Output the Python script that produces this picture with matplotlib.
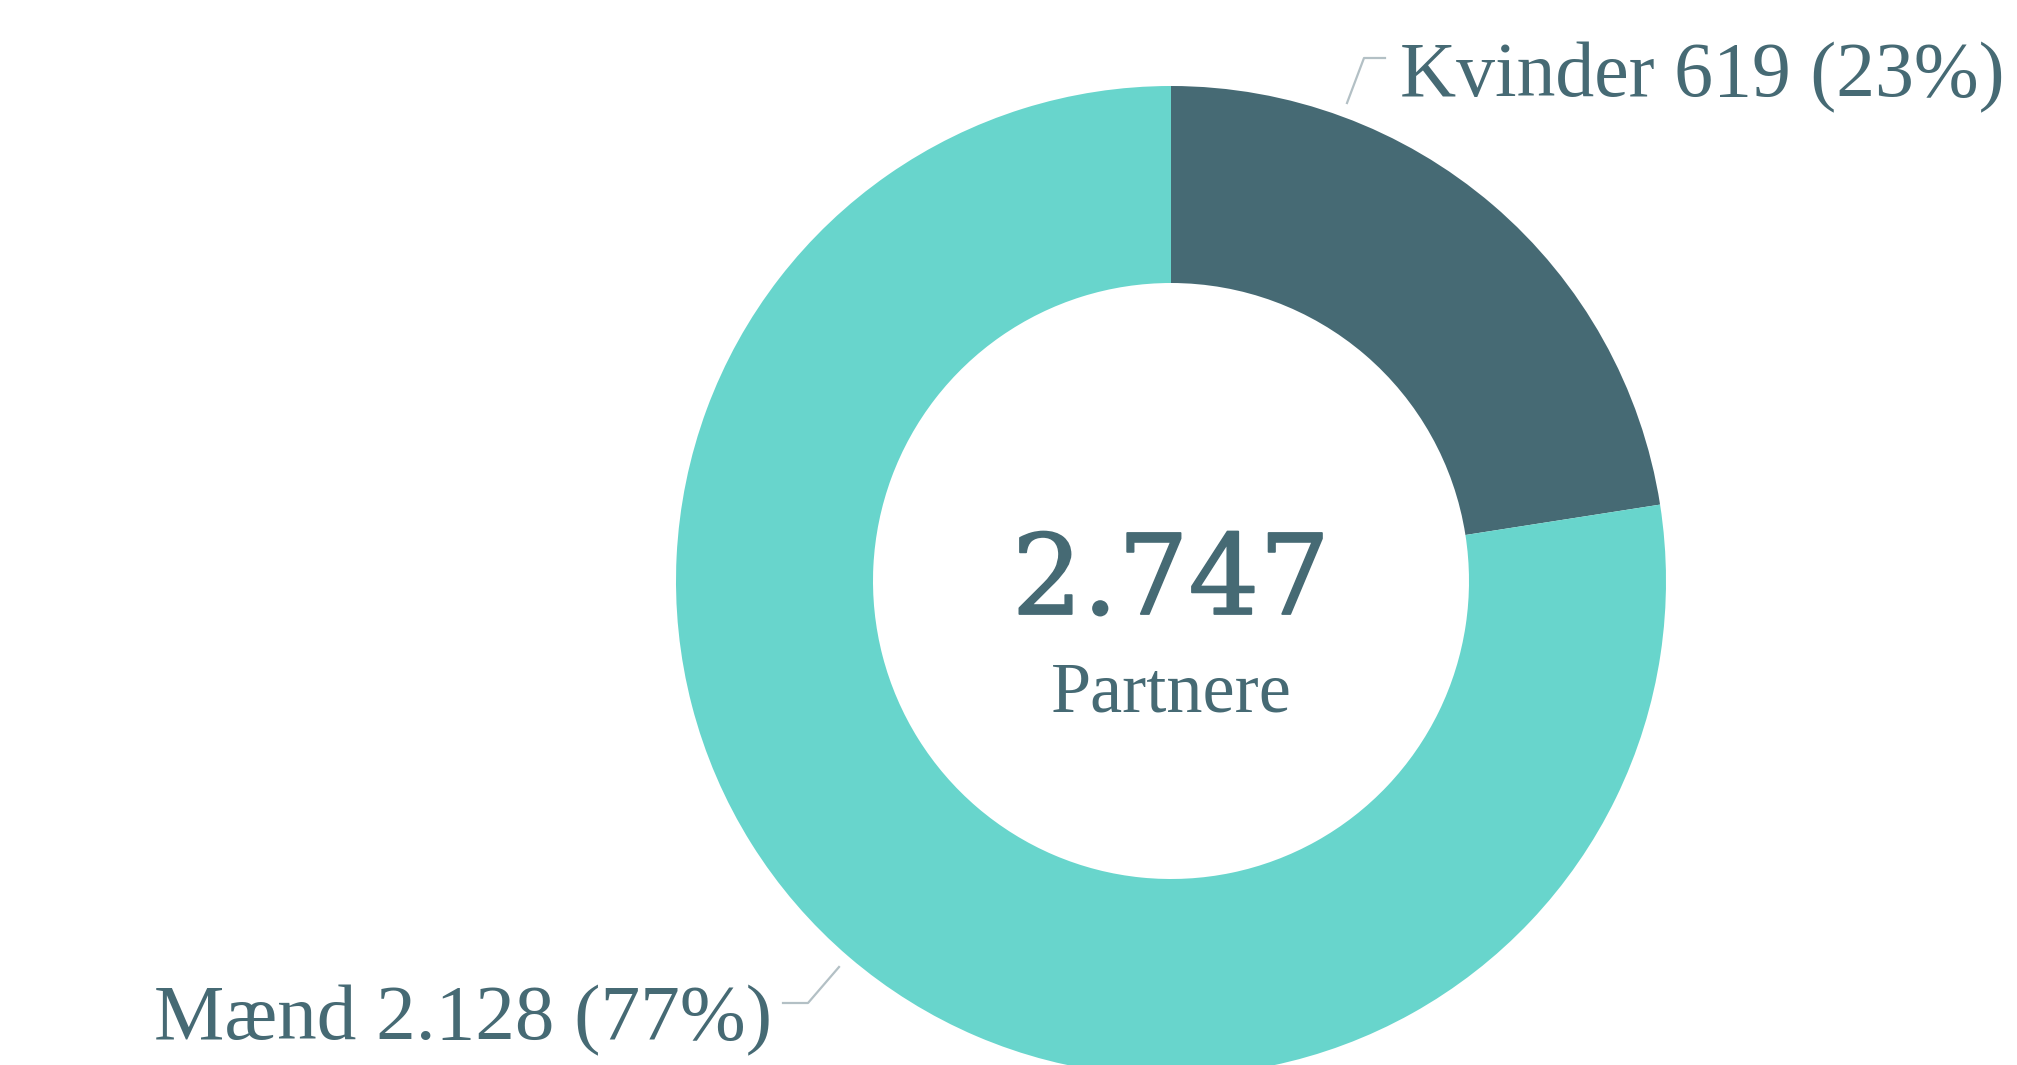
import matplotlib
matplotlib.use("Agg")
import matplotlib.pyplot as plt
import matplotlib.patheffects as pe

# data
labels = ["Kvinder", "Mænd"]
values = [619, 2128]
colors = ["#466A74", "#68D5CC"]
center_caption = "Partnere"

total = sum(values)


def dk(n):
    # Danish thousands separator
    return f"{n:,}".replace(",", ".")


W, H = 2017, 1065
fig = plt.figure(figsize=(W / 100, H / 100), dpi=100)
ax = fig.add_axes([0, 0, 1, 1])

text_color = "#466A74"
line_color = "#B3C0C5"
serif = ["Liberation Serif", "DejaVu Serif"]

cx, cy = 1171, 484
r_out, r_in = 495, 298
ax.pie(values, colors=colors, startangle=90, counterclock=False,
       radius=r_out, center=(cx, cy),
       wedgeprops=dict(width=r_out - r_in, linewidth=0))

ax.set_xlim(0, W)
ax.set_ylim(0, H)
ax.set_aspect("equal")
ax.axis("off")

# centre text
ax.text(cx, H - 614, dk(total), ha="center", va="baseline",
        fontsize=80, family=["DejaVu Serif"], color=text_color,
        path_effects=[pe.withStroke(linewidth=1.3, foreground=text_color)])
ax.text(cx, H - 711, center_caption, ha="center", va="baseline",
        fontsize=52, family=serif, color=text_color)

# slice labels
pct = [round(v / total * 100) for v in values]
ax.text(1400, H - 96, f"{labels[0]} {dk(values[0])} ({pct[0]}%)",
        ha="left", va="baseline", fontsize=56, family=serif, color=text_color)
ax.text(772, H - 1039, f"{labels[1]} {dk(values[1])} ({pct[1]}%)",
        ha="right", va="baseline", fontsize=57, family=serif, color=text_color)

# leader lines
ax.plot([1347, 1364, 1385], [H - 103, H - 58, H - 58], color=line_color, lw=1.6)
ax.plot([783, 808, 839], [H - 1003, H - 1003, H - 967], color=line_color, lw=1.6)

fig.savefig("out.png", dpi=100)
